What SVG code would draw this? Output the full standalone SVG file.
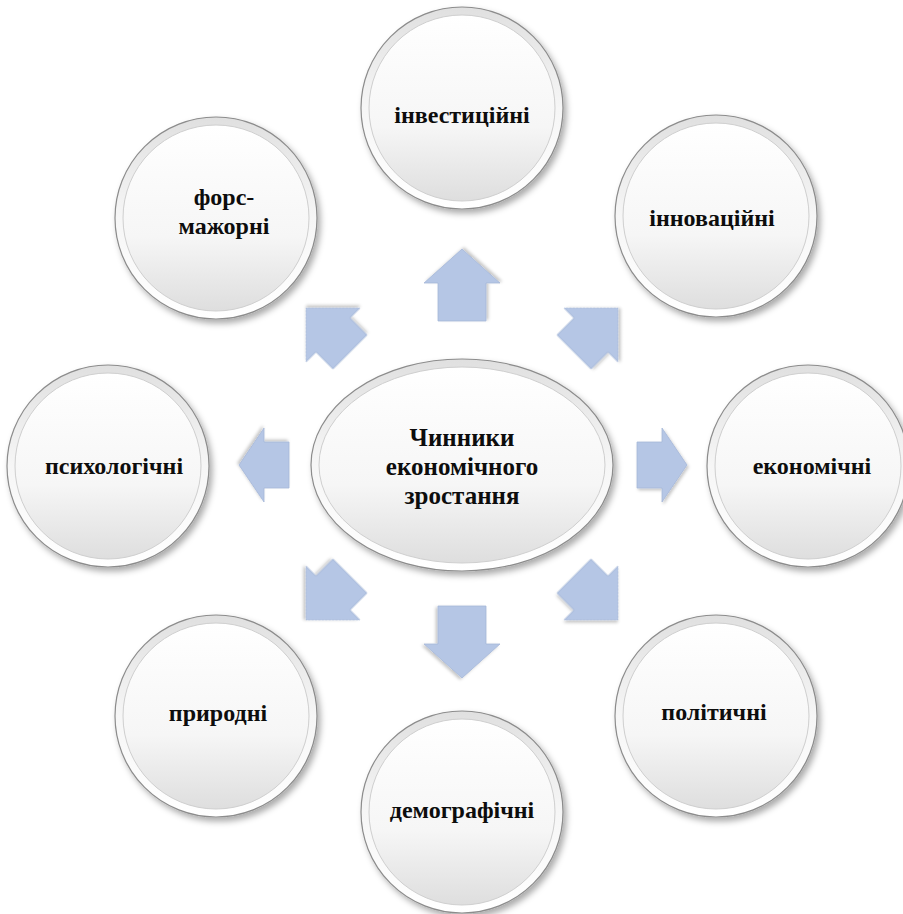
<svg xmlns="http://www.w3.org/2000/svg" width="903" height="914" viewBox="0 0 903 914">
<style>
.lbl{font-family:"Liberation Serif","Times New Roman",serif;font-weight:bold;font-size:24px;fill:#0d0d0d;text-anchor:middle}
.ctr{font-size:25px}
.arr{fill:#b5c6e5;stroke:#a6b8d8;stroke-width:0.8;filter:url(#ash)}
.ring{fill:url(#gRing);stroke:#8c8c8c;stroke-width:1.2}
.disk{fill:url(#gDisk);stroke:#cfcfcf;stroke-width:1}
</style>
<defs>
<linearGradient id="gRing" x1="0" y1="0" x2="0" y2="1">
<stop offset="0" stop-color="#e0e0e0"/>
<stop offset="0.5" stop-color="#f6f6f6"/>
<stop offset="1" stop-color="#ffffff"/>
</linearGradient>
<linearGradient id="gDisk" x1="0" y1="0" x2="0" y2="1">
<stop offset="0" stop-color="#ffffff"/>
<stop offset="0.6" stop-color="#f6f6f6"/>
<stop offset="1" stop-color="#dedede"/>
</linearGradient>
<filter id="sh" x="-20%" y="-20%" width="140%" height="140%">
<feDropShadow dx="3" dy="4" stdDeviation="3" flood-color="#000" flood-opacity="0.33"/>
</filter>
<filter id="ash" x="-30%" y="-30%" width="160%" height="160%">
<feDropShadow dx="1.5" dy="2" stdDeviation="1.5" flood-color="#000" flood-opacity="0.22"/>
</filter>
<path id="aV" d="M-36,-24 H2 V-38 L36,0 L2,38 V24 H-36 Z"/>
<path id="aH" d="M-25,-23 H0 V-37 L25,0 L0,37 V23 H-25 Z"/>
<path id="aD" d="M-31,-24 H-7 V-38 L31,0 L-7,38 V24 H-31 Z"/>
</defs>
<rect width="903" height="914" fill="#ffffff"/>

<g id="connectors">
<use href="#aV" class="arr" transform="translate(462,285) rotate(-90)"/>
<use href="#aV" class="arr" transform="translate(462,642) rotate(90)"/>
<use href="#aH" class="arr" transform="translate(662,465)"/>
<use href="#aH" class="arr" transform="translate(264,465) rotate(180)"/>
<use href="#aD" class="arr" transform="translate(596,330) rotate(-45)"/>
<use href="#aD" class="arr" transform="translate(328,330) rotate(-135)"/>
<use href="#aD" class="arr" transform="translate(328,598) rotate(135)"/>
<use href="#aD" class="arr" transform="translate(596,598) rotate(45)"/>
</g>

<g id="center">
<ellipse cx="462" cy="465" rx="151" ry="106" class="ring" filter="url(#sh)"/>
<ellipse cx="462" cy="465" rx="143" ry="98" class="disk"/>
<text class="lbl ctr" x="462" y="446">Чинники</text>
<text class="lbl ctr" x="462" y="475">економічного</text>
<text class="lbl ctr" x="462" y="504">зростання</text>
</g>

<g id="n-investytsiini">
<circle cx="462" cy="108" r="101" class="ring" filter="url(#sh)"/>
<circle cx="462" cy="108" r="93" class="disk"/>
<text class="lbl" x="462" y="123">інвестиційні</text>
</g>

<g id="n-innovatsiini">
<circle cx="716" cy="216" r="101" class="ring" filter="url(#sh)"/>
<circle cx="716" cy="216" r="93" class="disk"/>
<text class="lbl" x="712" y="226">інноваційні</text>
</g>

<g id="n-ekonomichni">
<circle cx="808" cy="466" r="101" class="ring" filter="url(#sh)"/>
<circle cx="808" cy="466" r="93" class="disk"/>
<text class="lbl" x="812" y="474">економічні</text>
</g>

<g id="n-politychni">
<circle cx="716" cy="716" r="101" class="ring" filter="url(#sh)"/>
<circle cx="716" cy="716" r="93" class="disk"/>
<text class="lbl" x="714" y="720">політичні</text>
</g>

<g id="n-demohrafichni">
<circle cx="462" cy="812" r="101" class="ring" filter="url(#sh)"/>
<circle cx="462" cy="812" r="93" class="disk"/>
<text class="lbl" x="462" y="818">демографічні</text>
</g>

<g id="n-pryrodni">
<circle cx="216" cy="716" r="101" class="ring" filter="url(#sh)"/>
<circle cx="216" cy="716" r="93" class="disk"/>
<text class="lbl" x="218" y="721">природні</text>
</g>

<g id="n-psykholohichni">
<circle cx="108" cy="466" r="101" class="ring" filter="url(#sh)"/>
<circle cx="108" cy="466" r="93" class="disk"/>
<text class="lbl" x="114" y="474">психологічні</text>
</g>

<g id="n-fors-mazhorni">
<circle cx="216" cy="218" r="101" class="ring" filter="url(#sh)"/>
<circle cx="216" cy="218" r="93" class="disk"/>
<text class="lbl" x="224" y="205">форс-</text>
<text class="lbl" x="224" y="234">мажорні</text>
</g>
</svg>
